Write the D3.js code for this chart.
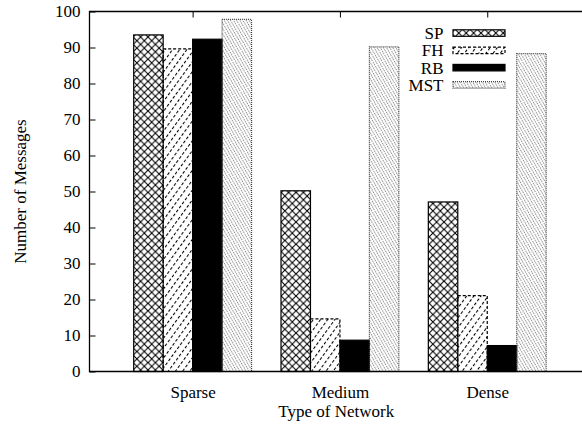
<!DOCTYPE html>
<html>
<head>
<meta charset="utf-8">
<script src="https://cdn.jsdelivr.net/npm/d3@7/dist/d3.min.js"></script>
<style>
  body { margin: 0; background: #fff; }
  svg text { font-family: "Liberation Serif", "Times New Roman", serif; font-size: 17px; fill: #000; }
</style>
</head>
<body>
<svg id="chart" width="582" height="425"></svg>
<script>
// data
var networks = ["Sparse", "Medium", "Dense"];
var series = ["SP", "FH", "RB", "MST"];
var spValues = [93.5, 50.2, 47.1];
var fhValues = [89.6, 14.6, 21.1];
var rbValues = [92.3, 8.7, 7.2];
var mstValues = [97.8, 90.2, 88.3];
var yTicks = [0, 10, 20, 30, 40, 50, 60, 70, 80, 90, 100];

var valuesBySeries = { SP: spValues, FH: fhValues, RB: rbValues, MST: mstValues };

var svg = d3.select("#chart"),
    plotLeft = 89.5, plotRight = 583, plotTop = 11.5, plotBottom = 371.5,
    fontSize = "17px";

// x in "cluster units": 0,1,2 are the category centres (gnuplot style)
var x = d3.scaleLinear().domain([-0.7, 2.65]).range([plotLeft, plotRight]);
var inner = d3.scaleBand().domain(series).range([-0.4, 0.4]);
var y = d3.scaleLinear().domain([0, 100]).range([plotBottom, plotTop]);

// fill patterns
var defs = svg.append("defs");

var cross = defs.append("pattern").attr("id", "pat-sp")
    .attr("patternUnits", "userSpaceOnUse")
    .attr("width", 7.4).attr("height", 7.4);
cross.append("path").attr("d", "M0,0L7.4,7.4M7.4,0L0,7.4")
    .attr("stroke", "#000").attr("stroke-width", 1.1);

var fh = defs.append("pattern").attr("id", "pat-fh")
    .attr("patternUnits", "userSpaceOnUse")
    .attr("width", 5.8).attr("height", 10)
    .attr("patternTransform", "rotate(36)");
fh.append("line").attr("x1", 0.5).attr("x2", 0.5).attr("y1", 0).attr("y2", 10)
    .attr("stroke", "#000").attr("stroke-width", 1.1).attr("stroke-dasharray", "3,2");

var mst = defs.append("pattern").attr("id", "pat-mst")
    .attr("patternUnits", "userSpaceOnUse")
    .attr("width", 2.7).attr("height", 10)
    .attr("patternTransform", "rotate(-30)");
mst.append("line").attr("x1", 0.5).attr("x2", 0.5).attr("y1", 0).attr("y2", 10)
    .attr("stroke", "#777").attr("stroke-width", 0.9).attr("stroke-dasharray", "1.5,1");

var styles = {
    SP:  { fill: "url(#pat-sp)",  stroke: "#000", dash: null },
    FH:  { fill: "url(#pat-fh)",  stroke: "#000", dash: "3,2" },
    RB:  { fill: "#000",          stroke: "#000", dash: null },
    MST: { fill: "url(#pat-mst)", stroke: "#444", dash: "1,1" }
};

// bars
var rows = [];
series.forEach(function (s) {
    networks.forEach(function (n, i) {
        rows.push({ series: s, index: i, value: valuesBySeries[s][i] });
    });
});

svg.append("g").selectAll("rect")
    .data(rows)
    .enter().append("rect")
    .attr("x", function (d) { return x(d.index + inner(d.series)); })
    .attr("y", function (d) { return y(d.value); })
    .attr("width", function (d) { return x(d.index + inner(d.series) + inner.bandwidth()) - x(d.index + inner(d.series)); })
    .attr("height", function (d) { return plotBottom - y(d.value); })
    .attr("fill", function (d) { return styles[d.series].fill; })
    .attr("stroke", function (d) { return styles[d.series].stroke; })
    .attr("stroke-width", 1.2)
    .attr("stroke-dasharray", function (d) { return styles[d.series].dash; });

// axes
var yAxis = svg.append("g")
    .attr("transform", "translate(" + plotLeft + ",0)")
    .call(d3.axisLeft(y).tickValues(yTicks).tickSize(-6).tickPadding(9));

var xAxis = svg.append("g")
    .attr("transform", "translate(0," + plotBottom + ")")
    .call(d3.axisBottom(x).tickValues([0, 1, 2]).tickSize(0).tickPadding(14)
        .tickFormat(function (d) { return networks[d]; }));

var xTop = svg.append("g")
    .attr("transform", "translate(0," + plotTop + ")")
    .call(d3.axisTop(x).tickValues([0, 1, 2]).tickSize(-6).tickFormat(""));

[yAxis, xAxis, xTop].forEach(function (a) {
    a.select(".domain").remove();
    a.selectAll("line").attr("stroke", "#000");
    a.selectAll("text").style("font-family", "Liberation Serif").style("font-size", fontSize).attr("fill", "#000");
});

// frame
svg.append("path")
    .attr("d", "M" + plotRight + "," + plotTop + "H" + plotLeft + "V" + plotBottom + "H" + plotRight)
    .attr("fill", "none").attr("stroke", "#000").attr("stroke-width", 1.3);

// axis titles
svg.append("text")
    .attr("x", (plotLeft + plotRight) / 2).attr("y", 417)
    .attr("text-anchor", "middle")
    .text("Type of Network");

svg.append("text")
    .attr("transform", "translate(26," + (plotTop + plotBottom) / 2 + ") rotate(-90)")
    .attr("text-anchor", "middle")
    .text("Number of Messages");

// legend
var legend = svg.append("g").selectAll("g")
    .data(series)
    .enter().append("g")
    .attr("transform", function (d, i) { return "translate(0," + (33 + i * 17.3) + ")"; });

legend.append("text")
    .attr("x", 443.5).attr("dy", "0.35em")
    .attr("text-anchor", "end")
    .text(function (d) { return d; });

legend.append("rect")
    .attr("x", 453).attr("y", -3.2)
    .attr("width", 52).attr("height", 6.5)
    .attr("fill", function (d) { return styles[d].fill; })
    .attr("stroke", function (d) { return styles[d].stroke; })
    .attr("stroke-width", 1.2)
    .attr("stroke-dasharray", function (d) { return styles[d].dash; });
</script>
</body>
</html>
